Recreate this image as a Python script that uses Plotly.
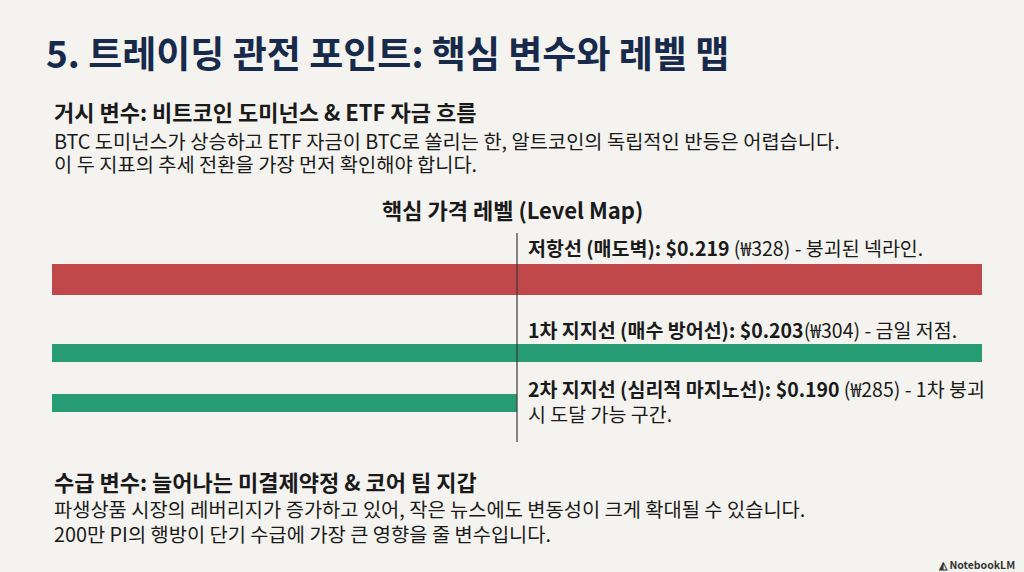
import plotly.graph_objects as go

# level map data
levels = ["저항선 (매도벽)", "1차 지지선 (매수 방어선)", "2차 지지선 (심리적 마지노선)"]
usd_prices = ["$0.219", "$0.203", "$0.190"]
krw_prices = ["(₩328)", "(₩304)", "(₩285)"]
notes = ["- 붕괴된 넥라인.", "- 금일 저점.", "- 1차 붕괴<br>시 도달 가능 구간."]
bar_extent = [100, 100, 50]
divider_at = 50

title = "5. 트레이딩 관전 포인트: 핵심 변수와 레벨 맵"
macro_head = "거시 변수: 비트코인 도미넌스 & ETF 자금 흐름"
macro_lines = [
    "BTC 도미넌스가 상승하고 ETF 자금이 BTC로 쏠리는 한, 알트코인의 독립적인 반등은 어렵습니다.",
    "이 두 지표의 추세 전환을 가장 먼저 확인해야 합니다.",
]
map_title = "핵심 가격 레벨 (Level Map)"
flow_head = "수급 변수: 늘어나는 미결제약정 & 코어 팀 지갑"
flow_lines = [
    "파생상품 시장의 레버리지가 증가하고 있어, 작은 뉴스에도 변동성이 크게 확대될 수 있습니다.",
    "200만 PI의 행방이 단기 수급에 가장 큰 영향을 줄 변수입니다.",
]

W, H = 1024, 572
BG = "#f4f3ef"
INK = "#1a1a1a"
NAVY = "#172a4b"
FONT = "Noto Sans CJK KR"
bar_colors = ["#c0474a", "#279b74", "#279b74"]
row_y = [279.5, 353, 403]      # pixel rows (y axis runs in pixels)
row_h = [31, 18, 18]
label_y = [247, 329, 390]

fig = go.Figure()
fig.add_trace(go.Bar(
    x=bar_extent, y=row_y, width=row_h, orientation="h",
    marker=dict(color=bar_colors, line=dict(width=0)),
    hoverinfo="skip", showlegend=False,
))
fig.add_trace(go.Scatter(
    x=[divider_at, divider_at], y=[233, 442], mode="lines",
    line=dict(color="#3a3a3a", width=1.2), hoverinfo="skip", showlegend=False,
))

fig.update_layout(
    width=W, height=H,
    margin=dict(l=0, r=0, t=0, b=0),
    paper_bgcolor=BG, plot_bgcolor=BG,
    font=dict(family=FONT, color=INK),
    bargap=0,
)
fig.update_xaxes(range=[0, 100], domain=[52 / W, 982 / W], visible=False, fixedrange=True)
fig.update_yaxes(range=[H, 0], domain=[0, 1], visible=False, fixedrange=True)


def txt(x, y, text, size, color=INK, anchor="left", valign="middle"):
    fig.add_annotation(
        xref="paper", yref="paper", x=x / W, y=1 - y / H, text=text,
        showarrow=False, xanchor=anchor, yanchor=valign, align=anchor,
        font=dict(family=FONT, size=size, color=color),
    )


txt(44, 52, f"<b>{title}</b>", 37, color=NAVY)
txt(52, 111, f"<b>{macro_head}</b>", 22)
txt(52, 141, macro_lines[0], 19.8)
txt(52, 164, macro_lines[1], 19.8)
txt(512, 209, f"<b>{map_title}</b>", 22, anchor="center")

for i in range(len(levels)):
    gap = "" if i == 1 else " "
    label = f"<b>{levels[i]}: {usd_prices[i]}</b>{gap}{krw_prices[i]} {notes[i]}"
    if "<br>" in label:
        txt(526, label_y[i] - 18, label, 19.5, valign="top")
    else:
        txt(526, label_y[i], label, 19.5)

txt(52, 481, f"<b>{flow_head}</b>", 22)
txt(52, 508, flow_lines[0], 19.8)
txt(52, 533, flow_lines[1], 19.8)
txt(1017, 564, "<b>◭ NotebookLM</b>", 10.5, color="#333333", anchor="right")

fig.write_html("out.html", config={"displayModeBar": False},
               post_script="document.body.style.margin='0';")
